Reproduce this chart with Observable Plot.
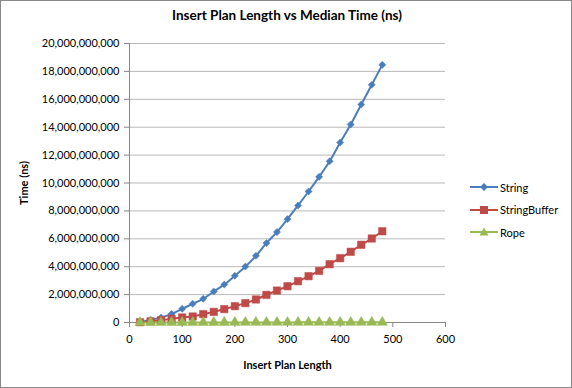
<!DOCTYPE html>
<html>
<head>
<meta charset="utf-8">
<script src="https://cdn.jsdelivr.net/npm/d3@7"></script>
<script src="https://cdn.jsdelivr.net/npm/@observablehq/plot@0.6"></script>
<style>
  html, body { margin: 0; padding: 0; background: #fff; }
  #chart { position: relative; width: 572px; height: 388px; font-family: Lato, "Open Sans", sans-serif; color: #000; }
  #frame { position: absolute; left: 0; top: 0; width: 570px; height: 386px; border: 1px solid #888; pointer-events: none; }
  #title { position: absolute; left: 129px; width: 316px; top: 7px; text-align: center; font-weight: bold; font-size: 13.5px; }
  #legend { position: absolute; left: 470px; top: 176px; font-size: 11px; }
  .item { display: flex; align-items: center; height: 22.5px; }
  .item svg { margin-right: 2px; }
  svg.plot { position: absolute; left: 0; top: 0; }
</style>
</head>
<body>
<div id="chart">
  <div id="title"></div>
  <div id="legend"></div>
  <div id="frame"></div>
</div>
<script>
const titleText = "Insert Plan Length vs Median Time (ns)";
const xLabel = "Insert Plan Length";
const yLabel = "Time (ns)";
const xTicks = [0, 100, 200, 300, 400, 500, 600];
const yTicks = [0, 2e9, 4e9, 6e9, 8e9, 10e9, 12e9, 14e9, 16e9, 18e9, 20e9];

const planLengths = [20, 40, 60, 80, 100, 120, 140, 160, 180, 200, 220, 240, 260, 280, 300, 320, 340, 360, 380, 400, 420, 440, 460, 480];
const stringTimes = [0.02e9, 0.2e9, 0.36e9, 0.62e9, 0.98e9, 1.34e9, 1.70e9, 2.22e9, 2.72e9, 3.35e9, 4.01e9, 4.78e9, 5.69e9, 6.48e9, 7.41e9, 8.39e9, 9.39e9, 10.44e9, 11.56e9, 12.90e9, 14.19e9, 15.63e9, 17.04e9, 18.47e9];
const stringBufferTimes = [0.02e9, 0.08e9, 0.17e9, 0.26e9, 0.36e9, 0.43e9, 0.60e9, 0.76e9, 0.96e9, 1.17e9, 1.39e9, 1.65e9, 1.98e9, 2.29e9, 2.60e9, 2.96e9, 3.32e9, 3.70e9, 4.18e9, 4.61e9, 5.07e9, 5.57e9, 6.02e9, 6.54e9];
const ropeTimes = [1e6, 2e6, 2e6, 3e6, 3e6, 4e6, 4e6, 5e6, 5e6, 6e6, 6e6, 7e6, 7e6, 8e6, 8e6, 9e6, 9e6, 10e6, 10e6, 11e6, 11e6, 12e6, 12e6, 13e6];

const seriesNames = ["String", "StringBuffer", "Rope"];
const seriesColors = ["#4A7EBB", "#BE4B48", "#98B954"];
const seriesSymbols = ["diamond2", "square", "triangle"];
const seriesValues = [stringTimes, stringBufferTimes, ropeTimes];

const data = [];
seriesNames.forEach((name, i) => {
  planLengths.forEach((x, j) => data.push({series: name, x, y: seriesValues[i][j]}));
});

document.getElementById("title").textContent = titleText;

const fmt = d3.format(",");

const plot = Plot.plot({
  width: 572,
  height: 388,
  marginLeft: 129,
  marginRight: 127,
  marginTop: 43,
  marginBottom: 66,
  style: { fontFamily: "Lato, 'Open Sans', sans-serif", fontSize: "11px", color: "#000", background: "transparent" },
  x: { domain: [0, 600], ticks: xTicks, tickSize: 5, tickPadding: 8, label: xLabel, labelAnchor: "center", labelOffset: 46 },
  y: { domain: [0, 20e9], ticks: yTicks, tickFormat: fmt, tickSize: 5, tickPadding: 5, label: yLabel, labelAnchor: "center", labelOffset: 109 },
  color: { domain: seriesNames, range: seriesColors },
  symbol: { domain: seriesNames, range: seriesSymbols },
  marks: [
    Plot.gridY(yTicks, { stroke: "#b9b9b9", strokeOpacity: 1, strokeWidth: 1 }),
    Plot.axisX({ ticks: xTicks, tickSize: 5, tickPadding: 8, stroke: "#868686", label: xLabel, labelAnchor: "center", labelOffset: 46, labelArrow: "none" }),
    Plot.axisY({ ticks: yTicks, tickFormat: fmt, tickSize: 5, tickPadding: 5, stroke: "#868686", label: yLabel, labelAnchor: "center", labelOffset: 109, labelArrow: "none" }),
    Plot.ruleY([0], { stroke: "#868686" }),
    Plot.ruleX([0], { stroke: "#868686" }),
    Plot.line(data, { x: "x", y: "y", z: "series", stroke: "series", strokeWidth: 2, curve: "catmull-rom" }),
    Plot.dot(data.filter(d => d.series === "String"), { x: "x", y: "y", fill: "series", symbol: "series", r: 3.2, stroke: "series", strokeWidth: 0.5 }),
    Plot.dot(data.filter(d => d.series === "StringBuffer"), { x: "x", y: "y", fill: "series", symbol: "series", r: 4.2, stroke: "series", strokeWidth: 0.5 }),
    Plot.dot(data.filter(d => d.series === "Rope"), { x: "x", y: "y", fill: "series", symbol: "series", r: 3.8, stroke: "series", strokeWidth: 0.5 })
  ]
});
document.getElementById("chart").insertBefore(plot, document.getElementById("frame"));

plot.querySelectorAll("[aria-label='x-axis label'] text, [aria-label='y-axis label'] text").forEach(t => { t.setAttribute("font-weight", "bold"); });

const legend = document.getElementById("legend");
const symPaths = {
  diamond2: "M0,-4L4,0L0,4L-4,0Z",
  square: "M-4,-4H4V4H-4Z",
  triangle: "M0,-4.5L4.5,3.5H-4.5Z"
};
seriesNames.forEach((name, i) => {
  const item = document.createElement("div");
  item.className = "item";
  item.innerHTML = `<svg width="28" height="12"><line x1="0" y1="6" x2="28" y2="6" stroke="${seriesColors[i]}" stroke-width="2"/><path transform="translate(14,6)" d="${symPaths[seriesSymbols[i]]}" fill="${seriesColors[i]}"/></svg><span>${name}</span>`;
  legend.appendChild(item);
});
</script>
</body>
</html>
